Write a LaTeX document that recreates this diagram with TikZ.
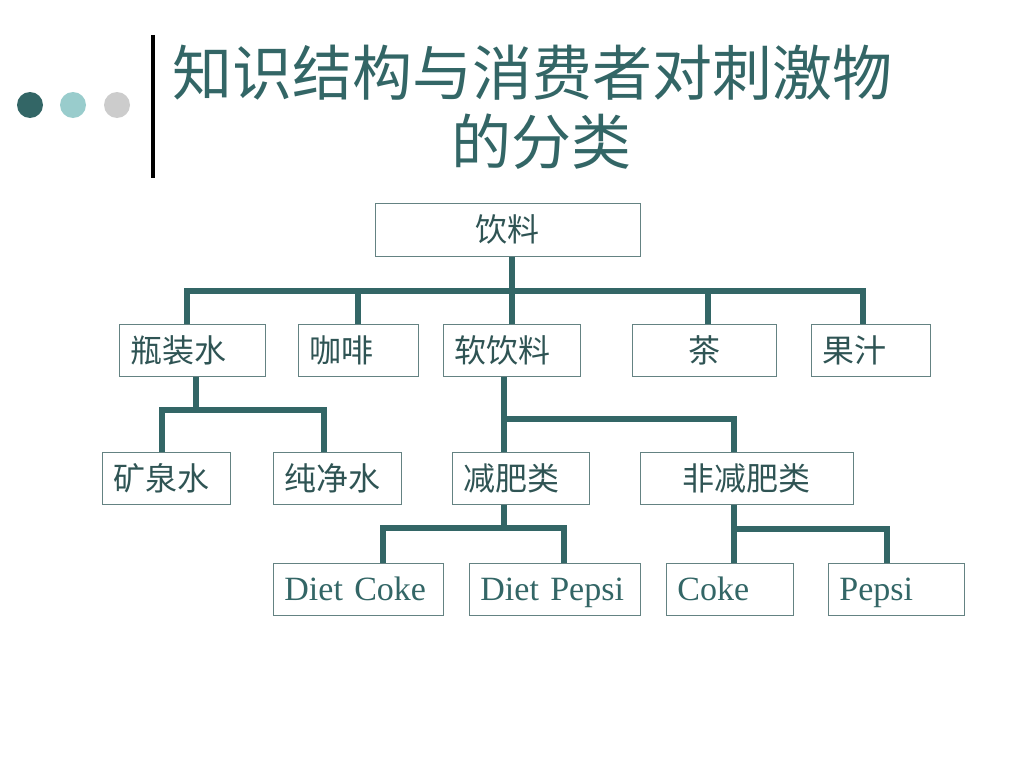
\documentclass[tikz,border=0pt]{standalone}
\usepackage{fontspec}
\setmainfont{Liberation Serif}
\newfontfamily\cjk{Noto Sans CJK SC}
\definecolor{tealdark}{RGB}{51,102,102}
\definecolor{teallight}{RGB}{153,204,204}
\definecolor{dotgrey}{RGB}{204,204,204}
\definecolor{boxline}{RGB}{100,130,130}
\definecolor{boxtext}{RGB}{47,84,84}

\begin{document}
\begin{tikzpicture}[x=1pt, y=-1pt,
                    box/.style={draw=boxline, line width=0.8pt, anchor=north west,
                                minimum height=52pt, inner xsep=11pt, inner ysep=0pt,
                                text=boxtext, align=left},
                    cn/.style={font=\cjk\fontsize{32}{36}\selectfont},
                    en/.style={font=\fontsize{34}{38}\selectfont, text=tealdark,
                               text height=29pt, text depth=6pt},
                    link/.style={draw=tealdark, line width=6pt}]
                    \useasboundingbox (0,0) rectangle (1024,768);
                    \fill[tealdark] (30,105) circle (13);
                    \fill[teallight] (73,105) circle (13);
                    \fill[dotgrey] (117,105) circle (13);
                    \draw[line width=4pt] (153,35) -- (153,178);
                    \node[text=tealdark, font=\cjk\fontsize{60}{66}\selectfont] (title1) at (532,73) {知识结构与消费者对刺激物};
                    \node[text=tealdark, font=\cjk\fontsize{60}{66}\selectfont] (title2) at (541,142) {的分类};

                    \node[box, cn, text width=243pt, align=center, minimum height=53pt] (drink) at (375,203) {饮料};

                    \node[box, cn, text width=124pt] (water) at (119,324) {瓶装水};
                    \node[box, cn, text width=98pt] (coffee) at (298,324) {咖啡};
                    \node[box, cn, text width=115pt] (soft) at (443,324) {软饮料};
                    \node[box, cn, text width=122pt, align=center] (tea) at (632,324) {茶};
                    \node[box, cn, text width=97pt] (juice) at (811,324) {果汁};

                    \node[box, cn, text width=106pt] (mineral) at (102,452) {矿泉水};
                    \node[box, cn, text width=106pt] (pure) at (273,452) {纯净水};
                    \node[box, cn, text width=115pt] (diet) at (452,452) {减肥类};
                    \node[box, cn, text width=191pt, align=center] (nondiet) at (640,452) {非减肥类};

                    \node[box, en, text width=148pt] (dcoke) at (273,563) {Diet Coke};
                    \node[box, en, text width=149pt] (dpepsi) at (469,563) {Diet Pepsi};
                    \node[box, en, text width=105pt] (coke) at (666,563) {Coke};
                    \node[box, en, text width=114pt] (pepsi) at (828,563) {Pepsi};

                    \coordinate (bus1) at ([xshift=4pt,yshift=-34pt]drink.south);
                    \draw[link] ([xshift=4pt]drink.south) -- (bus1);
                    \draw[link] ([xshift=-5pt]water.north) |- (bus1) -| ([xshift=-8pt]juice.north);
                    \draw[link] (coffee.north) -- (coffee.north |- bus1);
                    \draw[link] (soft.north) -- (soft.north |- bus1);
                    \draw[link] ([xshift=4pt]tea.north) -- ([xshift=4pt]tea.north |- bus1);

                    \coordinate (bus2) at ([xshift=4pt,yshift=-33pt]water.south);
                    \draw[link] ([xshift=4pt]water.south) -- (bus2);
                    \draw[link] ([xshift=-4pt]mineral.north) |- (bus2) -| ([xshift=-13pt]pure.north);

                    \coordinate (bus3) at ([xshift=-8pt,yshift=-42pt]soft.south);
                    \draw[link] ([xshift=-8pt]soft.south) -- (bus3) -| ([xshift=-13pt]nondiet.north);
                    \draw[link] (bus3) -- (bus3 |- diet.north);

                    \coordinate (bus4) at ([xshift=-17pt,yshift=-23pt]diet.south);
                    \draw[link] ([xshift=-17pt]diet.south) -- (bus4);
                    \draw[link] ([xshift=25pt]dcoke.north) |- (bus4) -| ([xshift=9pt]dpepsi.north);

                    \coordinate (bus5) at ([xshift=-13pt,yshift=-24pt]nondiet.south);
                    \draw[link] ([xshift=-13pt]nondiet.south) -- (bus5) -| ([xshift=-9pt]pepsi.north);
                    \draw[link] (bus5) -- (bus5 |- coke.north);
                \end{tikzpicture}
\end{document}
